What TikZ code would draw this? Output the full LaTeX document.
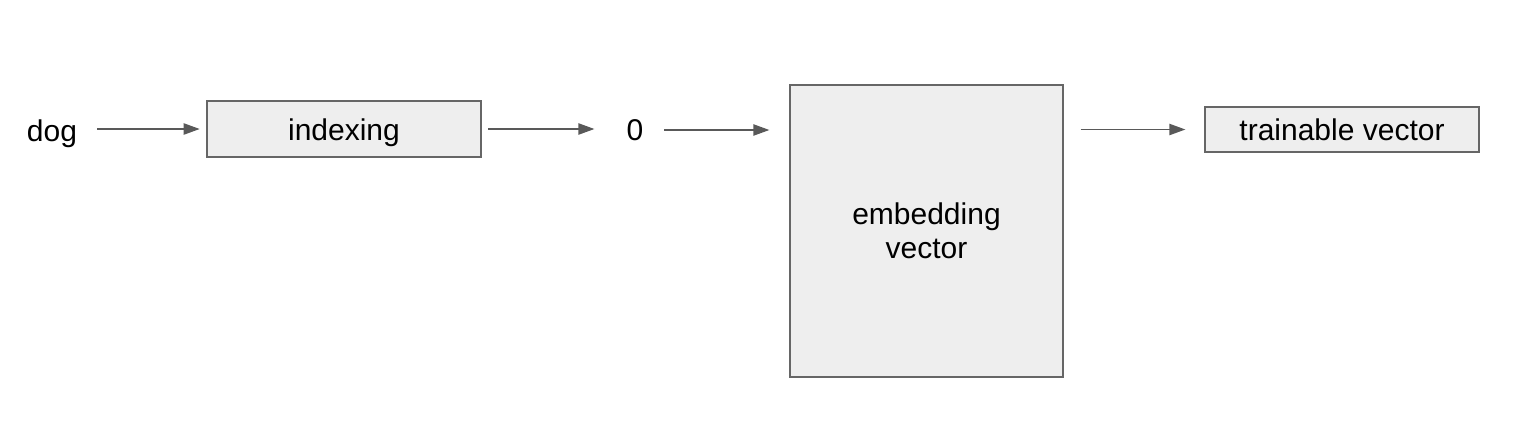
\documentclass[tikz,border=0pt]{standalone}
\usepackage{fontspec}
\setmainfont{Liberation Sans}
\usetikzlibrary{arrows.meta}
\definecolor{boxfill}{HTML}{EEEEEE}
\definecolor{boxline}{HTML}{666666}
\definecolor{flowgray}{HTML}{595959}

\begin{document}
\begin{tikzpicture}[x=0.75pt, y=-0.75pt, font=\fontsize{22.5}{25.5}\selectfont,
    box/.style={draw=boxline, fill=boxfill, line width=1pt, inner sep=0pt, align=center},
    onerow/.style={text height=17pt, text depth=0pt},
    word/.style={inner sep=0pt},
    flow/.style={-{Triangle[length=12pt,width=8.5pt]}, draw=flowgray, line width=1pt}]
  \useasboundingbox (0,0) rectangle (1523,436);
  % the chain: word -> index -> embedding
  \node[word] (dog) at (52,134) {dog};
  \node[box, onerow, minimum width=205.5pt, minimum height=42pt] (idx) at (344,129) {indexing};
  \node[word] (zero) at (635,130) {0};
  \node[box, minimum width=204.75pt, minimum height=219pt] (emb) at (926.5,231) {embedding\\vector};
  \node[box, onerow, minimum width=205.5pt, minimum height=33.75pt] (tv) at (1342,129.5) {trainable vector};
  % connectors
  \draw[flow, shorten <=15pt, shorten >=5pt] (idx.west -| dog.east) -- (idx.west);
  \draw[flow, shorten <=5pt, shorten >=24pt] (idx.east) -- (idx.east -| zero.west);
  \draw[flow, shorten <=15.5pt, shorten >=15pt] (zero.east) -- (zero.east -| emb.west);
  \draw[flow, shorten <=12.75pt, shorten >=14.25pt] (emb.east |- tv.west) -- (tv.west);
\end{tikzpicture}
\end{document}
